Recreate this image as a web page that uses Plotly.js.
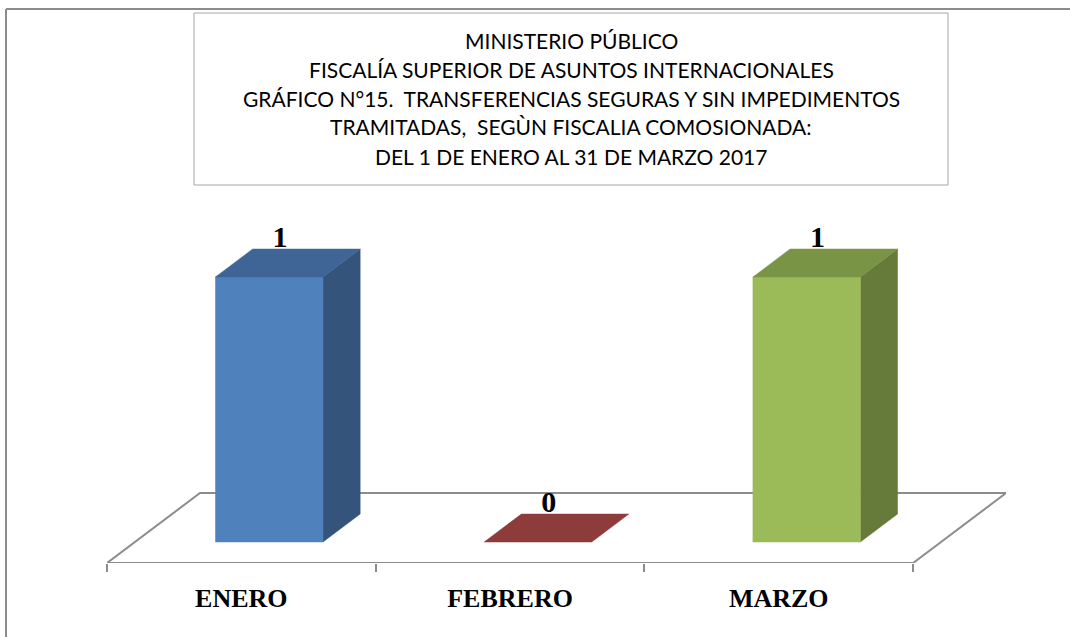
<!DOCTYPE html>
<html>
<head>
<meta charset="utf-8">
<script src="https://cdn.plot.ly/plotly-3.0.1.min.js"></script>
<style>html,body{margin:0;padding:0;background:#fff;}#chart{width:1070px;height:637px;}</style>
</head>
<body>
<div id="chart"></div>
<script>
// ---- data ----
const categories = ['ENERO', 'FEBRERO', 'MARZO'];
const values = [1, 0, 1];
const valueLabels = ['1', '0', '1'];
const titleLines = [
  'MINISTERIO PÚBLICO',
  'FISCALÍA SUPERIOR DE ASUNTOS INTERNACIONALES',
  'GRÁFICO N°15.  TRANSFERENCIAS SEGURAS Y SIN IMPEDIMENTOS',
  'TRAMITADAS,  SEGÙN FISCALIA COMOSIONADA:',
  'DEL 1 DE ENERO AL 31 DE MARZO 2017'
];

// ---- styles ----
const frontColors = ['#4F81BD', '#C0504D', '#9BBB59'];
const topColors   = ['#3E6596', '#8E3B3B', '#7A9445'];
const sideColors  = ['#34547C', '#7A2F2E', '#667A39'];
const gray = '#8c8c8c';

// ---- pseudo-3D projection (data units) ----
const DX = 0.346;   // x shift for full depth (category units)
const DY = 0.264;   // y shift for full depth (value units)
const HALF = 0.2;   // half bar width
const DF = 0.3, DB = 0.7; // bar front / back depth
function P(i, u, d, h) { return [i + u + d * DX, h + d * DY]; }
function poly(pts) {
  const xs = pts.map(p => p[0]); const ys = pts.map(p => p[1]);
  xs.push(xs[0]); ys.push(ys[0]);
  return {xs, ys};
}
function face(pts, color) {
  const p = poly(pts);
  return {x: p.xs, y: p.ys, type: 'scatter', mode: 'lines', fill: 'toself',
    fillcolor: color, line: {color: color, width: 0.5}, hoverinfo: 'skip', showlegend: false};
}

const n = categories.length;
const traces = [];
// floor outline
const floor = poly([P(0, -0.5, 0, 0), P(n - 1, 0.5, 0, 0), P(n - 1, 0.5, 1, 0), P(0, -0.5, 1, 0)]);
traces.push({x: floor.xs, y: floor.ys, type: 'scatter', mode: 'lines',
  line: {color: gray, width: 2}, hoverinfo: 'skip', showlegend: false});

categories.forEach((c, i) => {
  const v = values[i];
  if (v > 0) {
    traces.push(face([P(i, HALF, DF, 0), P(i, HALF, DB, 0), P(i, HALF, DB, v), P(i, HALF, DF, v)], sideColors[i]));
    traces.push(face([P(i, -HALF, DF, 0), P(i, HALF, DF, 0), P(i, HALF, DF, v), P(i, -HALF, DF, v)], frontColors[i]));
  }
  traces.push(face([P(i, -HALF, DF, v), P(i, HALF, DF, v), P(i, HALF, DB, v), P(i, -HALF, DB, v)], topColors[i]));
});

// value labels
traces.push({
  x: categories.map((c, i) => i + DF * DX + 0.04),
  y: values.map(v => v + DF * DY + 0.14),
  text: valueLabels, type: 'scatter', mode: 'text', textposition: 'middle center',
  textfont: {family: 'Liberation Serif', size: 30, color: '#000', weight: 'bold'},
  hoverinfo: 'skip', showlegend: false
});

// ---- layout geometry ----
const L = 107, R = 1006, T = 192, B = 563;
const xr = [-0.5, -0.5 + (R - L) / 268.7];
const yr = [0, (B - T) / 265];
function pxX(x) { return (x - L) / (R - L); }
function pxY(y) { return (B - y) / (B - T); }

const titleY = [40, 69, 98, 127, 156];
const annotations = titleLines.map((t, k) => ({
  text: t, xref: 'paper', yref: 'paper', x: pxX(571), y: pxY(titleY[k]),
  xanchor: 'center', yanchor: 'middle', showarrow: false,
  font: {family: 'Lato', size: 21, color: '#000'}
}));

const shapes = [
  {type: 'rect', xref: 'paper', yref: 'paper', x0: pxX(194), x1: pxX(948), y0: pxY(13), y1: pxY(185),
    line: {color: '#a6a6a6', width: 1}, fillcolor: 'rgba(0,0,0,0)'},
  {type: 'line', xref: 'paper', yref: 'paper', x0: pxX(6), x1: pxX(1075), y0: pxY(9), y1: pxY(9),
    line: {color: gray, width: 2}},
  {type: 'line', xref: 'paper', yref: 'paper', x0: pxX(6), x1: pxX(6), y0: pxY(9), y1: pxY(645),
    line: {color: gray, width: 2}}
];

const layout = {
  width: 1070, height: 637,
  margin: {l: L, r: 1070 - R, t: T, b: 637 - B, pad: 0},
  paper_bgcolor: '#fff', plot_bgcolor: 'rgba(0,0,0,0)',
  showlegend: false,
  xaxis: {range: xr, tickvals: categories.map((c, i) => i), ticktext: categories,
    ticks: '', showgrid: false, zeroline: false, showline: false, fixedrange: true,
    ticklabelstandoff: 17,
    tickfont: {family: 'Liberation Serif', size: 26, color: '#000', weight: 'bold'}},
  xaxis2: {range: xr, overlaying: 'x', anchor: 'y', side: 'bottom',
    tickvals: categories.map((c, i) => i - 0.5).concat([n - 0.5]),
    ticks: 'outside', ticklen: 8, tickwidth: 2, tickcolor: gray,
    showticklabels: false, showgrid: false, zeroline: false, showline: false},
  yaxis: {range: yr, visible: false, fixedrange: true},
  annotations: annotations,
  shapes: shapes
};
// invisible point so the tick axis renders
traces.push({x: [xr[0]], y: [0], xaxis: 'x2', yaxis: 'y', type: 'scatter', mode: 'markers',
  marker: {opacity: 0}, hoverinfo: 'skip', showlegend: false});

Plotly.newPlot('chart', traces, layout, {displayModeBar: false, staticPlot: true});
</script>
</body>
</html>
